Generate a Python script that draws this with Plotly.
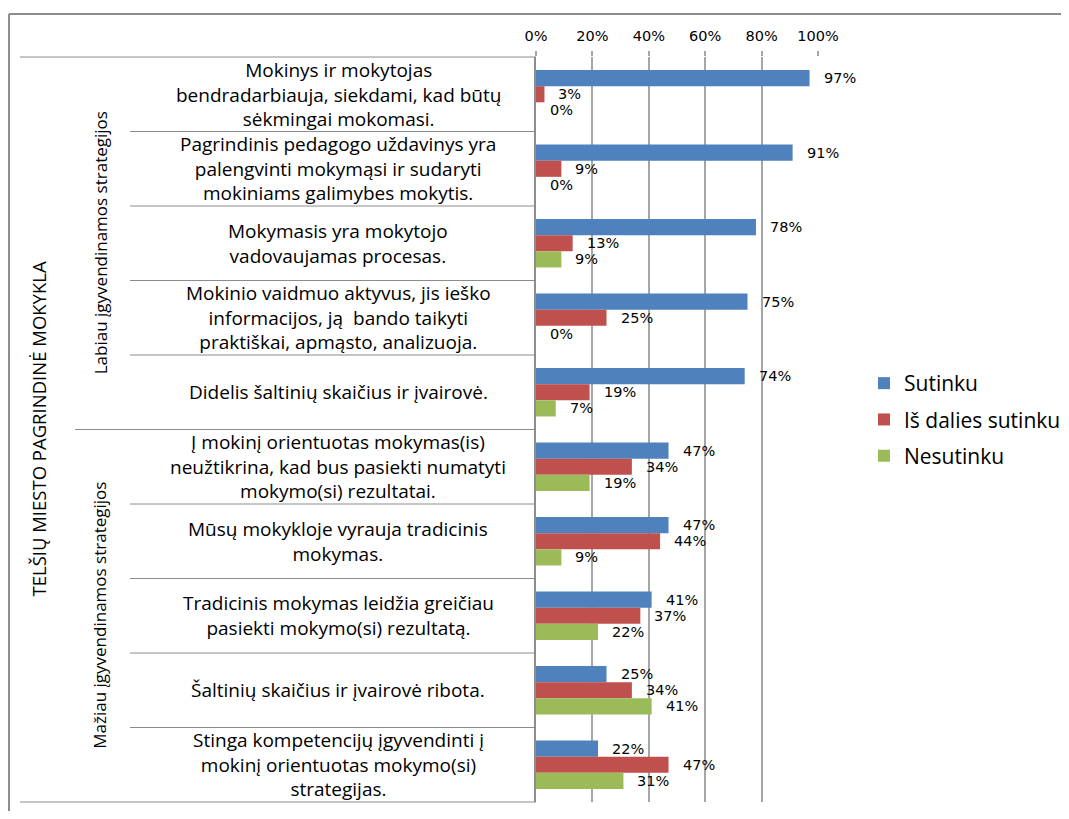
import plotly.graph_objects as go

categories = [
    "Mokinys ir mokytojas<br>bendradarbiauja, siekdami, kad būtų<br>sėkmingai mokomasi.",
    "Pagrindinis pedagogo uždavinys yra<br>palengvinti mokymąsi ir sudaryti<br>mokiniams galimybes mokytis.",
    "Mokymasis yra mokytojo<br>vadovaujamas procesas.",
    "Mokinio vaidmuo aktyvus, jis ieško<br>informacijos, ją  bando taikyti<br>praktiškai, apmąsto, analizuoja.",
    "Didelis šaltinių skaičius ir įvairovė.",
    "Į mokinį orientuotas mokymas(is)<br>neužtikrina, kad bus pasiekti numatyti<br>mokymo(si) rezultatai.",
    "Mūsų mokykloje vyrauja tradicinis<br>mokymas.",
    "Tradicinis mokymas leidžia greičiau<br>pasiekti mokymo(si) rezultatą.",
    "Šaltinių skaičius ir įvairovė ribota.",
    "Stinga kompetencijų įgyvendinti į<br>mokinį orientuotas mokymo(si)<br>strategijas.",
]
sutinku = [97, 91, 78, 75, 74, 47, 47, 41, 25, 22]
is_dalies = [3, 9, 13, 25, 19, 34, 44, 37, 34, 47]
nesutinku = [0, 0, 9, 0, 7, 19, 9, 22, 41, 31]
series_names = ["Sutinku", "Iš dalies sutinku", "Nesutinku"]
series_values = [sutinku, is_dalies, nesutinku]
series_colors = ["#4F81BD", "#C0504D", "#9BBB59"]
group_names = ["Labiau įgyvendinamos strategijos", "Mažiau įgyvendinamos strategijos"]
group_sizes = [5, 5]
school_name = "TELŠIŲ MIESTO PAGRINDINĖ MOKYKLA"
x_ticks = [0, 20, 40, 60, 80, 100]

# page has an 8px body margin; positions below are in page pixels
OFF = 8
W, H = 1069 - OFF, 819 - 2 * OFF
PLOT_L, PLOT_R, PLOT_T, PLOT_B = 536, 818, 57, 802
L = PLOT_L - OFF
T = PLOT_T - OFF
R = W - (PLOT_R - OFF)
B = H - (PLOT_B - OFF)
PW = PLOT_R - PLOT_L
PH = PLOT_B - PLOT_T


def px_x(p):
    return (p - PLOT_L) / PW


def px_y(p):
    return (PLOT_B - p) / PH


fig = go.Figure()
for name, vals, col in zip(series_names, series_values, series_colors):
    fig.add_trace(go.Bar(
        y=categories, x=vals, name=name, orientation="h",
        marker=dict(color=col, line=dict(width=0)),
        legendgroup=name,
    ))

annotations = []
bar_px = PH / len(categories) * 0.65 / 3
for i, vals in enumerate(series_values):
    for cat, v in zip(categories, vals):
        annotations.append(dict(
            x=v, y=cat, xref="x", yref="y", text=f"{v}%", showarrow=False,
            xanchor="left", yanchor="middle", xshift=12, yshift=(1 - i) * bar_px,
            font=dict(family="DejaVu Sans", size=14.5, color="#000"),
        ))

for cat in categories:
    annotations.append(dict(
        x=px_x(338), y=cat, xref="paper", yref="y", text=cat, showarrow=False,
        xanchor="center", yanchor="middle", align="center",
        font=dict(family="Open Sans", size=19, color="#000"),
    ))

annotations.append(dict(
    x=px_x(38), y=0.5, xref="paper", yref="paper", text=school_name,
    showarrow=False, textangle=-90, xanchor="center", yanchor="middle",
    font=dict(family="Open Sans", size=18.5, color="#000"),
))

start = 0
for gname, gsize in zip(group_names, group_sizes):
    annotations.append(dict(
        x=px_x(100), y=start + (gsize - 1) / 2, xref="paper", yref="y", text=gname,
        showarrow=False, textangle=-90, xanchor="center", yanchor="middle",
        font=dict(family="Open Sans", size=17, color="#000"),
    ))
    start += gsize

shapes = []
gray = "#8c8c8c"
# outer frame
shapes.append(dict(type="line", xref="paper", yref="paper", x0=px_x(9), x1=px_x(1080),
                   y0=px_y(14), y1=px_y(14), line=dict(color=gray, width=2)))
shapes.append(dict(type="line", xref="paper", yref="paper", x0=px_x(9), x1=px_x(9),
                   y0=px_y(14), y1=px_y(830), line=dict(color=gray, width=2)))
# table top & bottom
for yy in (1, 0):
    shapes.append(dict(type="line", xref="paper", yref="paper", x0=px_x(20), x1=0,
                       y0=yy, y1=yy, line=dict(color=gray, width=1)))
# separators
idx = 0
boundaries = []
for gsize in group_sizes:
    idx += gsize
    boundaries.append(idx)
for k in range(1, len(categories)):
    x0 = px_x(75) if k in boundaries else px_x(130)
    shapes.append(dict(type="line", xref="paper", yref="y", x0=x0, x1=0,
                       y0=k - 0.5, y1=k - 0.5, line=dict(color=gray, width=1)))

fig.update_layout(
    width=W, height=H,
    margin=dict(l=L, r=R, t=T, b=B, autoexpand=False),
    paper_bgcolor="white", plot_bgcolor="white",
    barmode="group", bargap=0.35, bargroupgap=0,
    xaxis=dict(side="top", range=[0, 100], tickvals=x_ticks,
               ticktext=[f"{t}%" for t in x_ticks], showgrid=True, gridcolor="#a6a6a6",
               gridwidth=1.5, zeroline=False, showline=False, ticks="outside",
               ticklen=5, tickcolor="#a6a6a6", tickwidth=1.5, ticklabelstandoff=4,
               tickfont=dict(family="DejaVu Sans", size=14.5, color="#000")),
    yaxis=dict(categoryorder="array", categoryarray=categories,
               range=[len(categories) - 0.5, -0.5], showticklabels=False,
               showgrid=False, zeroline=False, showline=True, linecolor="#8c8c8c",
               linewidth=1.5, ticks=""),
    legend=dict(x=px_x(864), y=px_y(363), xanchor="left", yanchor="top",
                font=dict(family="Open Sans", size=21, color="#000"),
                tracegroupgap=6, bgcolor="rgba(0,0,0,0)"),
    annotations=annotations, shapes=shapes,
    showlegend=True,
)

fig.write_html("out.html")
